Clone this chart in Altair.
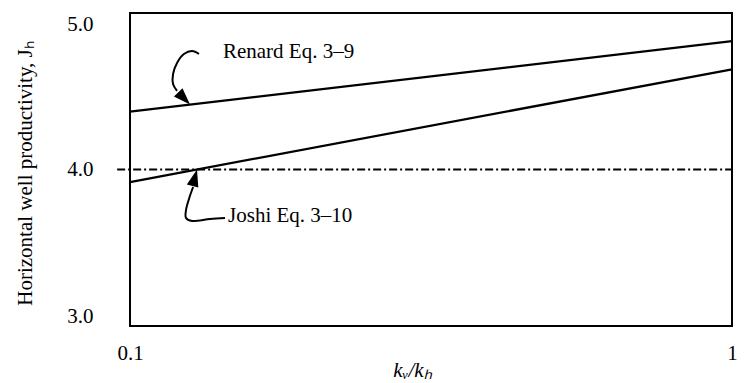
import altair as alt
import pandas as pd

# Permeability anisotropy ratio kv/kh (log axis) and productivity J_h
kv_kh = [0.1, 1.0]
renard_j = [4.37, 4.82]
joshi_j = [3.92, 4.64]
reference_j = 4.0

# Annotation labels (left edge position in data units)
label_text = ["Renard Eq. 3\u20139", "Joshi Eq. 3\u201310"]
label_x = [0.1427, 0.1455]
label_y = [4.751, 3.703]

# Curved leader paths from each label toward its curve
renard_path_x = [0.1302, 0.1268, 0.1229, 0.1197, 0.1179, 0.1179, 0.1197]
renard_path_y = [4.738, 4.757, 4.738, 4.681, 4.610, 4.546, 4.502]
joshi_path_x = [0.1438, 0.1358, 0.1268, 0.1239, 0.1239, 0.1253, 0.1273]
joshi_path_y = [3.690, 3.684, 3.671, 3.690, 3.741, 3.812, 3.888]

# Arrowhead tips and headings (degrees clockwise from up)
head_x = [0.1258, 0.1292]
head_y = [4.415, 4.0]
head_angle = [136, 15]

FONT = "Liberation Serif"
SIZE = 21

curves = pd.DataFrame(
    {
        "k": kv_kh * 2,
        "J": renard_j + joshi_j,
        "series": ["Renard"] * len(kv_kh) + ["Joshi"] * len(kv_kh),
    }
)

paths = pd.DataFrame(
    {
        "x": renard_path_x + joshi_path_x,
        "y": renard_path_y + joshi_path_y,
        "i": list(range(len(renard_path_x))) + list(range(len(joshi_path_x))),
        "leader": ["Renard"] * len(renard_path_x) + ["Joshi"] * len(joshi_path_x),
    }
)

heads = pd.DataFrame({"x": head_x, "y": head_y, "angle": head_angle})
labels = pd.DataFrame({"x": label_x, "y": label_y, "text": label_text})
ref = pd.DataFrame({"x": [0.0952], "x2": [1.0], "y": [reference_j]})

x_scale = alt.Scale(type="log", domain=[0.1, 1.0], nice=False)
y_scale = alt.Scale(domain=[3.0, 5.0], nice=False, zero=False)

x_axis = alt.Axis(
    values=[0.1, 1.0],
    format="~g",
    grid=False,
    ticks=False,
    tickSize=0,
    domain=False,
    labelFlush=False,
    labelFont=FONT,
    labelFontSize=SIZE,
    labelColor="black",
    labelPadding=16,
    title="k\u1d65/k\u2095",
    titleFont=FONT,
    titleFontSize=SIZE,
    titleFontStyle="italic",
    titleFontWeight="normal",
    titleColor="black",
    titleX=282,
    titleY=44,
    titleBaseline="middle",
)

y_axis = alt.Axis(
    values=[3.0, 4.0, 5.0],
    format=".1f",
    grid=False,
    ticks=False,
    tickSize=0,
    domain=False,
    labelFlush=True,
    labelFont=FONT,
    labelFontSize=SIZE,
    labelColor="black",
    labelPadding=37,
    title="Horizontal well productivity, J\u2095",
    titleFont=FONT,
    titleFontSize=SIZE,
    titleFontWeight="normal",
    titleColor="black",
    titleAngle=270,
    titleX=-105,
    titleY=160,
    titleAlign="center",
    titleBaseline="middle",
)

lines = (
    alt.Chart(curves)
    .mark_line(color="black", strokeWidth=2.3)
    .encode(
        x=alt.X("k:Q", scale=x_scale, axis=x_axis),
        y=alt.Y("J:Q", scale=y_scale, axis=y_axis),
        detail="series:N",
    )
)

ref_line = (
    alt.Chart(ref)
    .mark_rule(color="black", strokeWidth=2, strokeDash=[8, 3, 2, 3], clip=False)
    .encode(x="x:Q", x2="x2:Q", y="y:Q")
)

leaders = (
    alt.Chart(paths)
    .mark_line(color="black", strokeWidth=2, interpolate="catmull-rom")
    .encode(x="x:Q", y="y:Q", detail="leader:N", order="i:Q")
)

arrowheads = (
    alt.Chart(heads)
    .mark_point(
        shape="M0,0L0.7,2L-0.7,2Z",
        filled=True,
        color="black",
        opacity=1,
        size=289,
        strokeWidth=0,
    )
    .encode(x="x:Q", y="y:Q", angle=alt.Angle("angle:Q", scale=None))
)

texts = (
    alt.Chart(labels)
    .mark_text(align="left", baseline="middle", font=FONT, fontSize=SIZE, color="black")
    .encode(x="x:Q", y="y:Q", text="text:N")
)

chart = (
    alt.layer(lines, ref_line, leaders, arrowheads, texts)
    .properties(
        width=602,
        height=313,
        padding={"left": 130, "top": 13, "right": 13, "bottom": 57},
        autosize="none",
        background="white",
    )
    .configure_view(stroke="black", strokeWidth=2)
)

chart.save("out.html", embed_options={"renderer": "svg", "actions": False})
